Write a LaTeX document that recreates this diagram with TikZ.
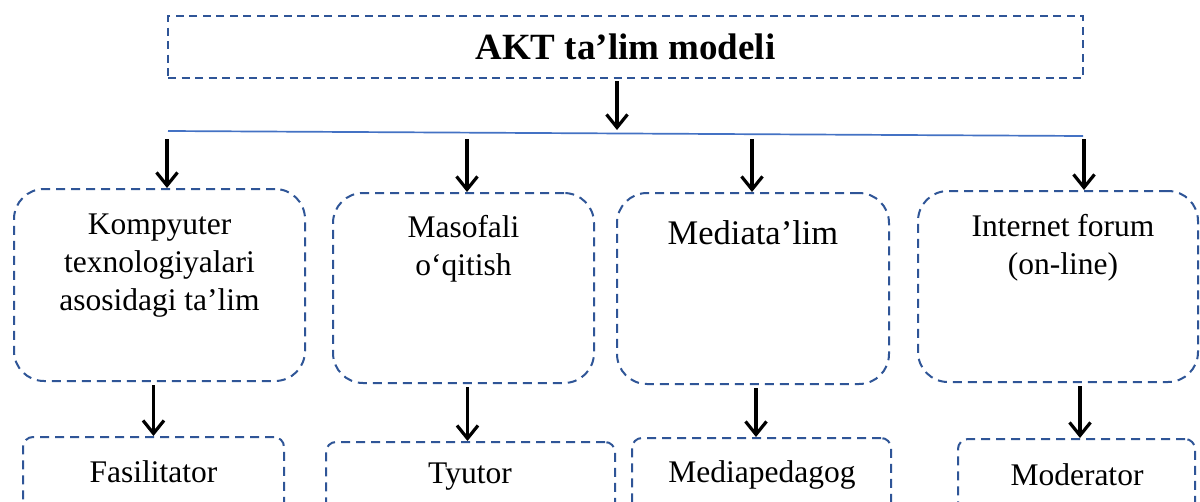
\documentclass[tikz,border=0pt]{standalone}
\usepackage{fontspec}
\setmainfont{Liberation Serif}
\usetikzlibrary{arrows.meta,calc}
\definecolor{dashblue}{RGB}{47,85,151}
\definecolor{lineblue}{RGB}{68,114,196}
\tikzset{
  topbox/.style={draw=dashblue, line width=2pt, dash pattern=on 8pt off 5.5pt,
    minimum width=915pt, minimum height=62pt, inner sep=0pt,
    font=\bfseries\fontsize{37}{40}\selectfont},
  modelbox/.style={draw=dashblue, line width=2pt, dash pattern=on 9pt off 6pt,
    rounded corners=30pt, inner sep=0pt},
  rolebox/.style={draw=dashblue, line width=2pt, dash pattern=on 9pt off 6pt,
    rounded corners=10pt, inner sep=0pt, minimum height=100pt},
  arr/.style={line width=3.2pt, -{Straight Barb[length=13pt,width=21pt]}},
  txt/.style={font=\fontsize{31.5}{38}\selectfont, align=center, inner sep=0pt},
  bigtxt/.style={font=\fontsize{34.5}{38}\selectfont, align=center, inner sep=0pt},
}
\begin{document}
\begin{tikzpicture}[x=1pt,y=-1pt]
\clip (0,0) rectangle (1200,501);
\fill[white] (0,0) rectangle (1200,501);

% top box
\node[topbox] (top) at (625.5,47) {AKT ta’lim modeli};

% horizontal line
\coordinate (hl) at (168,131);
\coordinate (hr) at (1083,136);
\draw[lineblue, line width=1.7pt] (hl) -- (hr);
\coordinate (j0) at (617,130);
\draw[arr] ($(top.south)+(-8.5,2)$) -- (j0);

% model boxes
\node[modelbox, minimum width=291pt, minimum height=192pt] (b1) at (159.5,285) {};
\node[modelbox, minimum width=261pt, minimum height=190pt] (b2) at (463.5,288) {};
\node[modelbox, minimum width=272pt, minimum height=191pt] (b3) at (753,288.5) {};
\node[modelbox, minimum width=280pt, minimum height=191pt] (b4) at (1058,286.5) {};

\node[txt] (t1) at (159.5,266) {Kompyuter\\texnologiyalari\\asosidagi ta’lim};
\node[txt] (t2) at (463.5,249) {Masofali\\o‘qitish};
\node[bigtxt] (t3) at (753,233) {Mediata’lim};
\node[txt] (t4) at (1063,248) {Internet forum\\(on-line)};

% arrows from line to model boxes
\coordinate (s1) at (167,139);
\coordinate (s2) at (467,139);
\coordinate (s3) at (752,139);
\coordinate (s4) at (1084,139);
\draw[arr] (s1) -- (s1 |- b1.north);
\draw[arr] (s2) -- (s2 |- b2.north);
\draw[arr] (s3) -- (s3 |- b3.north);
\draw[arr] (s4) -- (s4 |- b4.north);

% role boxes
\node[rolebox, minimum width=261pt] (r1) at (153.5,487) {};
\node[rolebox, minimum width=289pt] (r2) at (470.5,492) {};
\node[rolebox, minimum width=259pt] (r3) at (761.5,488) {};
\node[rolebox, minimum width=237pt] (r4) at (1076.5,489) {};

\node[txt] (u1) at (153.5,472) {Fasilitator};
\node[txt] (u2) at (470,477) {Tyutor};
\node[txt] (u3) at (762,475) {Mediapedagog};
\node[txt] (u4) at (1077,475) {Moderator};

% arrows from model boxes to role boxes
\draw[arr] ($(b1.south -| r1.north)+(0,3)$) -- (r1.north);
\draw[arr] ($(b2.south -| r2.north)+(-3,3)$) -- ($(r2.north)+(-3,0)$);
\draw[arr] ($(b3.south -| r3.north)+(-5.5,3)$) -- ($(r3.north)+(-5.5,0)$);
\draw[arr] ($(b4.south -| r4.north)+(3.5,3)$) -- ($(r4.north)+(3.5,0)$);
\end{tikzpicture}
\end{document}
